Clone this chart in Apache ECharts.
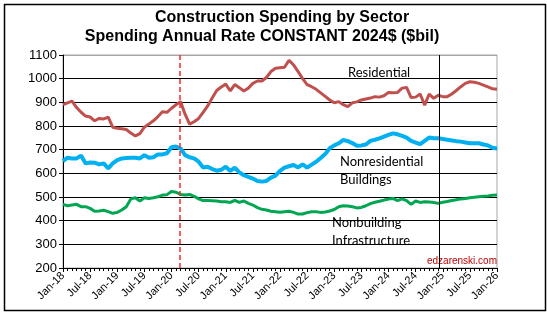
<!DOCTYPE html>
<html>
<head>
<meta charset="utf-8">
<script src="https://cdn.jsdelivr.net/npm/echarts@6/dist/echarts.min.js"></script>
<style>
  html, body { margin: 0; padding: 0; background: #fff; }
  #main { width: 547px; height: 313px; }
</style>
</head>
<body>
<div id="main"></div>
<script>
// tick labels, one every 6 months (Jan-18 .. Jan-26)
let tickLabels = ["Jan-18", "Jul-18", "Jan-19", "Jul-19", "Jan-20", "Jul-20", "Jan-21", "Jul-21",
    "Jan-22", "Jul-22", "Jan-23", "Jul-23", "Jan-24", "Jul-24", "Jan-25", "Jul-25", "Jan-26"]

// monthly values, $bil constant 2024$, Jan-18 .. Jan-26 (97 months)
let residential = [
    890, 898, 905, 878, 858, 842, 838, 822, 832, 830, 837, 795,
    790, 788, 785, 770, 758, 768, 795, 808, 822, 840, 860, 858,
    875, 890, 903, 850, 808, 818, 832, 858, 885, 918, 950, 965,
    977, 948, 975, 962, 948, 960, 980, 990, 990, 1005, 1030, 1044,
    1046, 1048, 1078, 1058, 1030, 1000, 975, 966, 955, 940, 925, 910,
    898, 903, 890, 882, 898, 902, 910, 914, 918, 924, 922, 928,
    942, 940, 942, 960, 963, 920, 922, 935, 888, 935, 917, 930,
    924, 924, 935, 950, 966, 980, 987, 985, 980, 973, 965, 957,
    955
]
let nonresidential = [
    652, 666, 663, 663, 675, 642, 646, 645, 638, 642, 621, 642,
    656, 663, 665, 666, 666, 663, 677, 666, 668, 680, 680, 685,
    710, 713, 705, 677, 668, 663, 649, 625, 628, 618, 611, 615,
    628, 610, 624, 604, 592, 585, 578, 568, 565, 568, 582, 590,
    610, 624, 630, 635, 625, 638, 624, 637, 649, 665, 682, 706,
    718, 727, 741, 736, 728, 717, 718, 722, 737, 742, 748, 755,
    762, 769, 765, 758, 751, 737, 730, 723, 737, 751, 748, 748,
    745, 742, 739, 736, 734, 730, 727, 727, 727, 722, 718, 708,
    705
]
let nonbuilding = [
    469, 463, 466, 469, 459, 459, 452, 440, 441, 444, 438, 431,
    435, 445, 459, 492, 497, 483, 497, 494, 497, 501, 508, 510,
    523, 520, 511, 508, 511, 503, 492, 485, 485, 484, 483, 480,
    480, 477, 486, 477, 483, 473, 466, 455, 448, 445, 440, 438,
    436, 438, 440, 435, 428, 428, 434, 438, 438, 435, 437, 441,
    447, 459, 463, 462, 459, 454, 456, 463, 472, 478, 482, 487,
    491, 494, 485, 492, 485, 469, 483, 477, 480, 479, 477, 473,
    478, 481, 485, 488, 492, 494, 497, 499, 501, 503, 504, 507,
    508
]
// reference lines (month index): Covid start, forecast start
let covidMonth = 25.75
let forecastMonth = 83.3

function toPoints(arr) {
    return arr.map((v, i) => [i, v])
}

var myChart = echarts.init(document.getElementById('main'))

let txt = { fontFamily: 'Lato', fontSize: 13, fill: '#000' }

var option = {
    animation: false,
    backgroundColor: '#fff',
    grid: {
        left: 63, right: 50, top: 55, bottom: 45,
        show: true, borderColor: '#a6a6a6', borderWidth: 1
    },
    xAxis: {
        type: 'value',
        min: 0, max: 96, interval: 6,
        axisLine: { lineStyle: { color: '#000', width: 1 } },
        axisTick: { show: true, length: 4, lineStyle: { color: '#000' } },
        minorTick: { show: true, splitNumber: 6, length: 3, lineStyle: { color: '#000' } },
        splitLine: { show: false },
        axisLabel: {
            rotate: 45, fontSize: 11, color: '#000', fontFamily: 'Liberation Sans', margin: 6,
            formatter: v => tickLabels[v / 6]
        }
    },
    yAxis: {
        type: 'value',
        min: 200, max: 1100, interval: 100,
        axisLine: { show: true, lineStyle: { color: '#000' } },
        axisTick: { show: true, length: 4, lineStyle: { color: '#000' } },
        splitLine: {
            lineStyle: {
                color: ['#000', '#000', '#000', '#000', '#000', '#000', '#000', '#000', '#000', '#a6a6a6'],
                width: 1
            }
        },
        axisLabel: { fontSize: 13, color: '#000', fontFamily: 'Liberation Sans', margin: 6,
            formatter: v => String(v) }
    },
    series: [
        {
            name: 'Residential',
            type: 'line',
            data: toPoints(residential),
            showSymbol: false,
            lineStyle: { color: '#c0504d', width: 3 },
            z: 3
        },
        {
            name: 'Nonresidential Buildings',
            type: 'line',
            data: toPoints(nonresidential),
            showSymbol: false,
            lineStyle: { color: '#00b0f0', width: 4 },
            z: 3,
            markLine: {
                silent: true, symbol: 'none', label: { show: false },
                lineStyle: { color: '#000', type: 'solid', width: 1 },
                data: [{ xAxis: forecastMonth }]
            }
        },
        {
            name: 'Nonbuilding Infrastructure',
            type: 'line',
            data: toPoints(nonbuilding),
            showSymbol: false,
            lineStyle: { color: '#00a651', width: 3 },
            z: 3
        },
        {
            name: 'covid',
            type: 'line',
            data: [],
            color: '#ff2a2a',
            z: 2,
            markLine: {
                silent: true, symbol: 'none', label: { show: false },
                itemStyle: { color: '#ff2a2a' },
                lineStyle: { color: '#ff2a2a', type: [5, 3], width: 1.5, opacity: 1 },
                data: [{ xAxis: covidMonth, lineStyle: { color: '#ff2a2a' } }]
            }
        }
    ],
    graphic: [
        { type: 'rect', left: 2, top: 2, shape: { width: 541, height: 306 },
          style: { fill: 'none', stroke: '#000', lineWidth: 1.5 }, silent: true },
        { type: 'text', x: 282, y: 18, style: { text: 'Construction Spending by Sector', fontFamily: 'Liberation Sans',
          fontSize: 16, fontWeight: 'bold', fill: '#000', align: 'center', verticalAlign: 'middle' } },
        { type: 'text', x: 262, y: 37, style: { text: 'Spending Annual Rate CONSTANT 2024$ ($bil)', fontFamily: 'Liberation Sans',
          fontSize: 16, fontWeight: 'bold', fill: '#000', align: 'center', verticalAlign: 'middle' } },
        { type: 'text', x: 348, y: 73, style: Object.assign({ text: 'Residential', verticalAlign: 'middle' }, txt) },
        { type: 'text', x: 340, y: 162, style: Object.assign({ text: 'Nonresidential', verticalAlign: 'middle' }, txt) },
        { type: 'text', x: 340, y: 180, style: Object.assign({ text: 'Buildings', verticalAlign: 'middle' }, txt) },
        { type: 'text', x: 332, y: 223, style: Object.assign({ text: 'Nonbuilding', verticalAlign: 'middle' }, txt) },
        { type: 'text', x: 332, y: 241, style: Object.assign({ text: 'Infrastructure', verticalAlign: 'middle' }, txt) },
        { type: 'text', x: 497, y: 261, style: { text: 'edzarenski.com', fontFamily: 'Liberation Sans', fontSize: 10,
          fill: '#c00000', align: 'right', verticalAlign: 'middle' } }
    ]
}

myChart.setOption(option)
</script>
</body>
</html>
